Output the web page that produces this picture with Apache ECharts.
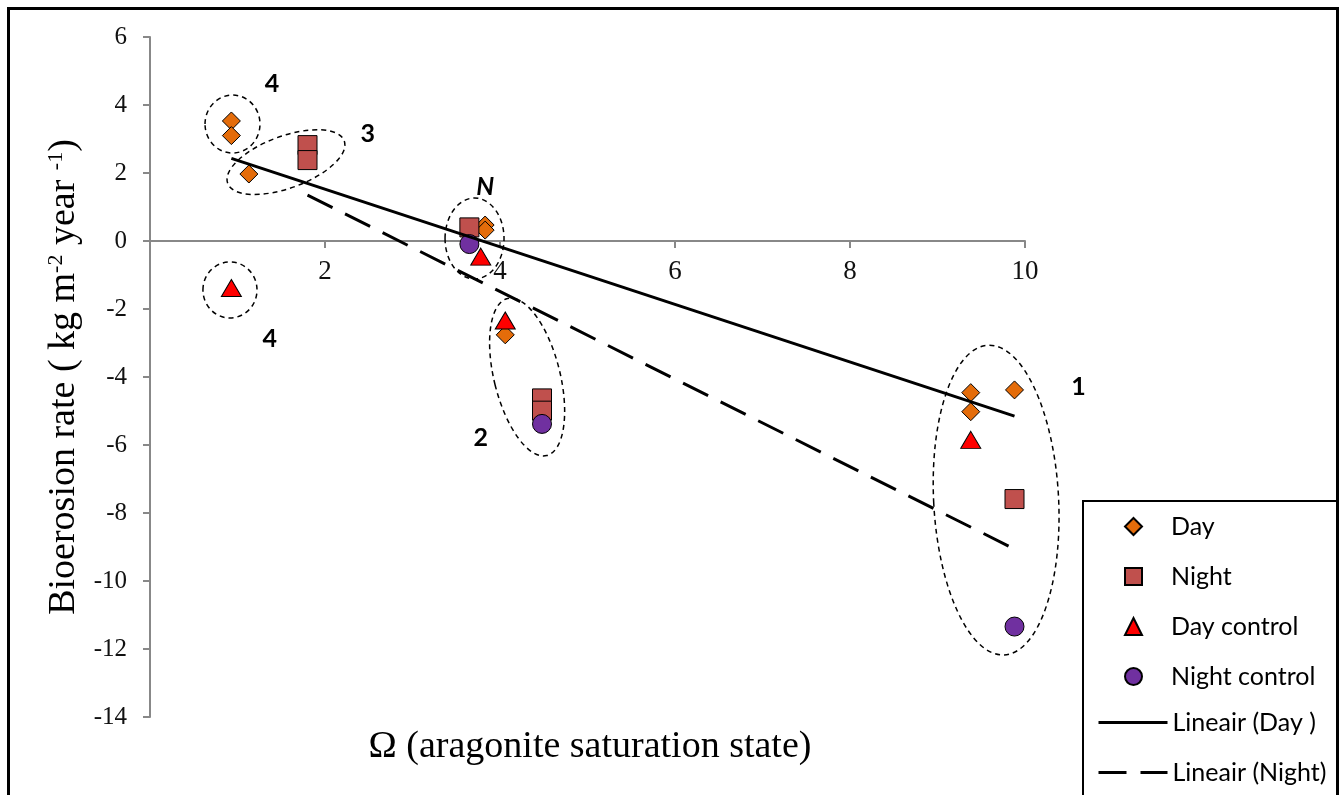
<!DOCTYPE html>
<html>
<head>
<meta charset="utf-8">
<script src="https://cdn.jsdelivr.net/npm/echarts@6/dist/echarts.min.js"></script>
<style>
html,body{margin:0;padding:0;background:#fff;}
#chart{width:1341px;height:795px;}
</style>
</head>
<body>
<div id="chart"></div>
<script>
// ---- data (x = aragonite saturation state, y = bioerosion rate) ----
const dayPoints = [[0.93,3.53],[0.93,3.10],[1.13,1.97],[3.83,0.47],[3.83,0.32],[4.06,-2.76],[9.38,-4.46],[9.38,-5.02],[9.88,-4.38]];
const nightPoints = [[1.80,2.82],[1.80,2.38],[3.65,0.40],[4.48,-4.63],[4.48,-4.99],[9.88,-7.59]];
const dayControlPoints = [[0.93,-1.38],[3.78,-0.46],[4.06,-2.34],[9.38,-5.85]];
const nightControlPoints = [[3.65,-0.09],[4.48,-5.38],[9.88,-11.34]];
const dayTrend = [[0.93,2.43],[9.88,-5.15]];
const nightTrend = [[1.80,1.35],[9.88,-9.06]];
// group annotations: [centerX, centerY, semiAxisX, semiAxisY, rotationDeg]
const groupEllipses = [[0.943,3.44,0.314,0.853,0],[1.554,2.32,0.709,0.765,20],[0.914,-1.44,0.309,0.824,0],[3.709,0.074,0.337,1.19,0],[4.31,-4.0,0.377,2.38,14],[9.67,-7.62,0.714,4.56,3]];
// group labels: [x, y] and texts
const groupLabelPos = [[1.394,4.62],[2.49,3.15],[3.83,1.59],[1.37,-2.88],[3.78,-5.79],[10.61,-4.29]];
const groupLabelText = ['4','3','N','4','2','1'];
const groupLabelItalic = [false,false,true,false,false,false];
const xTicks = {min:0, max:10, interval:2};
const yTicks = {min:-14, max:6, interval:2};
const markerNames = ['Day','Night','Day control','Night control'];
const trendNames = ['Lineair (Day )','Lineair (Night)'];

const chart = echarts.init(document.getElementById('chart'), null, {renderer:'canvas'});
const serif = '"Liberation Serif","Times New Roman",serif';
const sans = 'Lato,"Open Sans",sans-serif';
const mk = {borderColor:'#000', borderWidth:1};
const gridTop = 37, gridHeight = 680;
// x axis crosses the y axis at value 0
const xAxisOffset = -gridHeight * (0 - yTicks.min) / (yTicks.max - yTicks.min);

const option = {
  backgroundColor:'#fff',
  animation:false,
  grid:{left:150, top:gridTop, width:875, height:gridHeight, containLabel:false},
  xAxis:{
    type:'value', min:xTicks.min, max:xTicks.max, interval:xTicks.interval,
    position:'bottom', offset:xAxisOffset,
    axisLine:{show:true, onZero:false, lineStyle:{color:'#888', width:2}},
    axisTick:{show:true, inside:false, length:7, lineStyle:{color:'#888', width:2}},
    axisLabel:{fontFamily:serif, fontSize:27, color:'#111', margin:17,
      formatter:v => v===0 ? '' : String(v)},
    splitLine:{show:false}
  },
  yAxis:{
    type:'value', min:yTicks.min, max:yTicks.max, interval:yTicks.interval,
    axisLine:{show:true, lineStyle:{color:'#888', width:2}},
    axisTick:{show:true, length:7, lineStyle:{color:'#888', width:2}},
    axisLabel:{fontFamily:serif, fontSize:25, color:'#111', margin:23},
    splitLine:{show:false},
    name:'Bioerosion rate ( kg m{sup|-2} year {sup|-1})',
    nameLocation:'middle', nameGap:66, nameRotate:90,
    nameTextStyle:{fontFamily:serif, fontSize:38, color:'#000',
      rich:{sup:{fontFamily:serif, fontSize:22, color:'#000', verticalAlign:'top', padding:[0,0,16,0]}}}
  },
  legend:[
    {orient:'vertical', left:1124, top:514, data:markerNames,
     itemWidth:17, itemHeight:17, itemGap:25, itemTextGap:7, padding:0,
     textStyle:{fontFamily:sans, fontSize:25, color:'#000', lineHeight:24, padding:[0,0,0,24]},
     selectedMode:false, z:20},
    {orient:'vertical', left:1097, top:710, data:trendNames,
     itemWidth:69, itemHeight:17, itemGap:25, itemTextGap:7, padding:0,
     itemStyle:{opacity:0, color:'transparent', borderWidth:0},
     lineStyle:{width:3},
     textStyle:{fontFamily:sans, fontSize:25, color:'#000', lineHeight:24},
     selectedMode:false, z:20}
  ],
  graphic:[
    {type:'rect', z:10, silent:true, shape:{x:1083, y:501, width:254, height:400},
     style:{fill:'#fff', stroke:'#000', lineWidth:2}},
    {type:'rect', z:100, silent:true, shape:{x:8.5, y:8.5, width:1329, height:820},
     style:{fill:'none', stroke:'#000', lineWidth:3}},
    {type:'text', silent:true, x:590, y:747,
     style:{text:'Ω (aragonite saturation state)', fontFamily:serif, fontSize:38, fill:'#000',
       textAlign:'center', textVerticalAlign:'middle'}}
  ],
  series:[
    {name:'Day', type:'scatter', data:dayPoints, symbol:'diamond', symbolSize:18, z:3,
     itemStyle:Object.assign({color:'#E46C0A', opacity:1}, mk)},
    {name:'Night', type:'scatter', data:nightPoints, symbol:'rect', symbolSize:19, z:3,
     itemStyle:Object.assign({color:'#C0504D', opacity:1}, mk)},
    {name:'Day control', type:'scatter', data:dayControlPoints, symbol:'triangle', symbolSize:[20,17], z:3,
     itemStyle:Object.assign({color:'#FF0000', opacity:1}, mk)},
    {name:'Night control', type:'scatter', data:nightControlPoints, symbol:'circle', symbolSize:19, z:3,
     itemStyle:Object.assign({color:'#7030A0', opacity:1}, mk)},
    {name:'Lineair (Day )', type:'line', data:dayTrend, symbol:'none', showSymbol:false, z:4,
     lineStyle:{color:'#000', width:3, type:'solid'}, itemStyle:{color:'#000'}},
    {name:'Lineair (Night)', type:'line', data:nightTrend, symbol:'none', showSymbol:false, z:4,
     lineStyle:{color:'#000', width:3, type:[28,14]}, itemStyle:{color:'#000'}},
    {type:'custom', name:'ellipses', data:groupEllipses, z:2, silent:true, clip:false,
     encode:{x:0, y:1},
     renderItem:function(params, api){
       const c = api.coord([api.value(0), api.value(1)]);
       const s = api.size([api.value(2), api.value(3)]);
       return {type:'ellipse', x:c[0], y:c[1], rotation:api.value(4)*Math.PI/180,
         shape:{cx:0, cy:0, rx:s[0], ry:s[1]},
         style:{fill:'none', stroke:'#000', lineWidth:1.5, lineDash:[5,4]}};
     }},
    {type:'custom', name:'labels', data:groupLabelPos, z:5, silent:true, clip:false,
     encode:{x:0, y:1},
     renderItem:function(params, api){
       const c = api.coord([api.value(0), api.value(1)]);
       const i = params.dataIndex;
       return {type:'text', x:c[0], y:c[1],
         style:{text:groupLabelText[i], fontFamily:sans, fontWeight:'bold',
           fontStyle: groupLabelItalic[i] ? 'italic' : 'normal', fontSize:25, fill:'#000',
           textAlign:'center', textVerticalAlign:'middle'}};
     }}
  ]
};
chart.setOption(option);
</script>
</body>
</html>
